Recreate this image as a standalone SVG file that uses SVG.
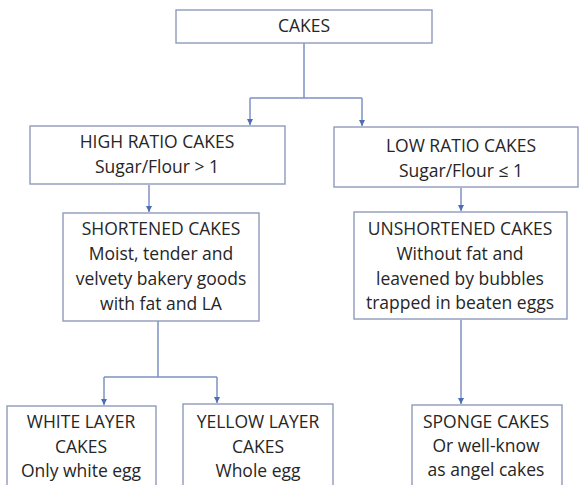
<svg xmlns="http://www.w3.org/2000/svg" width="580" height="485" viewBox="0 0 580 485">
  <style>
    .box { fill: #ffffff; stroke: #8f9bbb; stroke-width: 1.4; }
    .lbl { font-family: "Open Sans", "Liberation Sans", sans-serif; font-size: 17.5px; fill: #262626; text-anchor: middle; }
    .wire { fill: none; stroke: #7e92c2; stroke-width: 1.5; }
  </style>
  <defs>
    <marker id="tip" viewBox="0 0 8 8" refX="8" refY="4" markerWidth="6" markerHeight="6" markerUnits="userSpaceOnUse" orient="auto">
      <path d="M0,0 L8,4 L0,8 Z" fill="#4a6db3"/>
    </marker>
  </defs>
  <rect width="580" height="485" fill="#ffffff"/>

  <!-- connectors -->
  <g id="connectors">
    <path class="wire" d="M304,43 V98 M250,98 H362"/>
    <path class="wire" d="M250,98 V125" marker-end="url(#tip)"/>
    <path class="wire" d="M362,98 V126" marker-end="url(#tip)"/>
    <path class="wire" d="M149,185 V212" marker-end="url(#tip)"/>
    <path class="wire" d="M461,188 V211" marker-end="url(#tip)"/>
    <path class="wire" d="M158,321 V377 M104,377 H217"/>
    <path class="wire" d="M104,377 V405" marker-end="url(#tip)"/>
    <path class="wire" d="M217,377 V403" marker-end="url(#tip)"/>
    <path class="wire" d="M461,320 V404" marker-end="url(#tip)"/>
  </g>

  <g id="cakes">
    <rect class="box" x="176" y="10" width="256" height="33"/>
    <text class="lbl" x="304" y="32">CAKES</text>
  </g>

  <g id="high-ratio">
    <rect class="box" x="30" y="126" width="255" height="58"/>
    <text class="lbl" x="157" y="148">HIGH RATIO CAKES</text>
    <text class="lbl" x="157" y="173">Sugar/Flour &gt; 1</text>
  </g>

  <g id="low-ratio">
    <rect class="box" x="334" y="127" width="244" height="60"/>
    <text class="lbl" x="461" y="152">LOW RATIO CAKES</text>
    <text class="lbl" x="461" y="177">Sugar/Flour ≤ 1</text>
  </g>

  <g id="shortened">
    <rect class="box" x="63" y="213" width="196" height="108"/>
    <text class="lbl" x="161" y="235">SHORTENED CAKES</text>
    <text class="lbl" x="161" y="260">Moist, tender and</text>
    <text class="lbl" x="161" y="285">velvety bakery goods</text>
    <text class="lbl" x="161" y="310">with fat and LA</text>
  </g>

  <g id="unshortened">
    <rect class="box" x="354" y="212" width="213" height="107"/>
    <text class="lbl" x="460" y="235">UNSHORTENED CAKES</text>
    <text class="lbl" x="460" y="260">Without fat and</text>
    <text class="lbl" x="460" y="285">leavened by bubbles</text>
    <text class="lbl" x="460" y="309">trapped in beaten eggs</text>
  </g>

  <g id="white-layer">
    <rect class="box" x="7" y="406" width="149" height="90"/>
    <text class="lbl" x="81" y="428">WHITE LAYER</text>
    <text class="lbl" x="81" y="453">CAKES</text>
    <text class="lbl" x="81" y="477">Only white egg</text>
  </g>

  <g id="yellow-layer">
    <rect class="box" x="183" y="404" width="150" height="92"/>
    <text class="lbl" x="258" y="428">YELLOW LAYER</text>
    <text class="lbl" x="258" y="453">CAKES</text>
    <text class="lbl" x="258" y="477">Whole egg</text>
  </g>

  <g id="sponge">
    <rect class="box" x="412" y="405" width="150" height="91"/>
    <text class="lbl" x="486" y="428">SPONGE CAKES</text>
    <text class="lbl" x="486" y="452">Or well-know</text>
    <text class="lbl" x="486" y="476">as angel cakes</text>
  </g>
</svg>
